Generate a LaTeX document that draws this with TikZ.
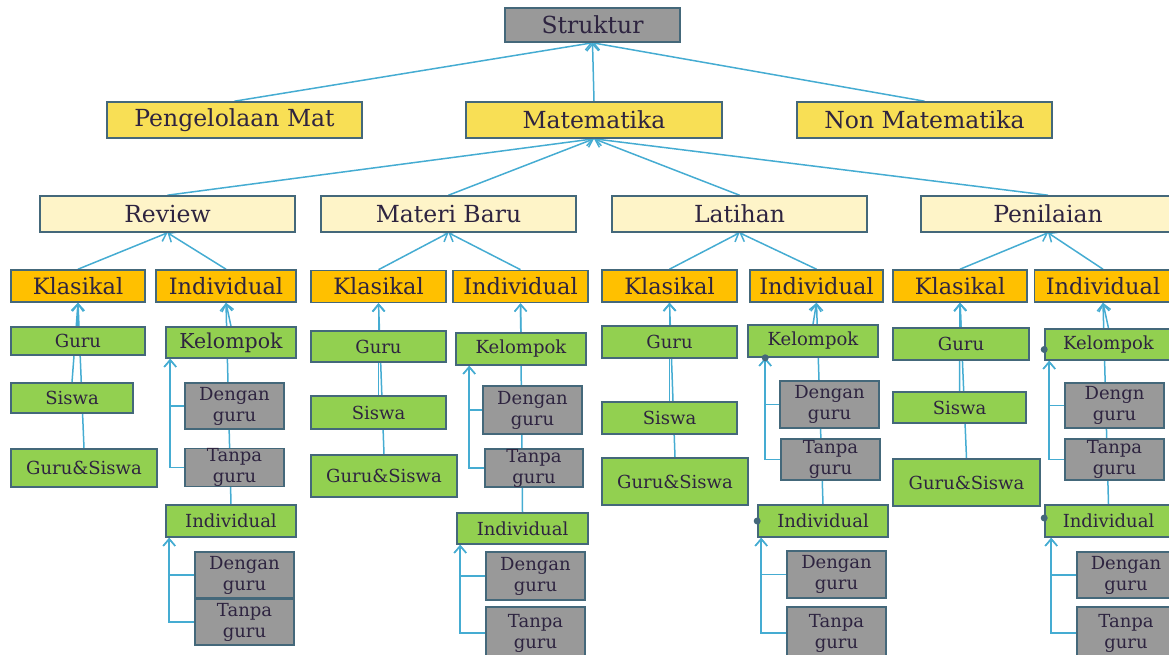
\documentclass[tikz,border=0pt]{standalone}
\usepackage{fontspec}
\usepackage{xcolor}
\usetikzlibrary{arrows.meta,backgrounds}
\setmainfont{DejaVu Serif}

\definecolor{bordr}{HTML}{44687A}
\definecolor{inkc}{HTML}{2E2440}
\definecolor{linkc}{HTML}{45ACD2}
\definecolor{boxgrey}{HTML}{999999}
\definecolor{yell}{HTML}{F8DF55}
\definecolor{paleyell}{HTML}{FEF4C8}
\definecolor{orng}{HTML}{FFC000}
\definecolor{grn}{HTML}{92D050}

\begin{document}
\begin{tikzpicture}[x=1pt,y=-1pt,
    box/.style={draw=bordr,line width=1.6pt,text=inkc,inner sep=0pt},
    wh/.style 2 args={minimum width=#1pt,minimum height=#2pt},
    top/.style={box,fill=boxgrey,font=\fontsize{23.5}{25}\selectfont},
    main/.style={box,fill=yell,font=\fontsize{23.5}{25}\selectfont},
    phase/.style={box,fill=paleyell,font=\fontsize{23.5}{25}\selectfont},
    mode/.style={box,fill=orng,font=\fontsize{22.5}{24}\selectfont},
    leaf/.style={box,fill=grn,font=\fontsize{18}{20}\selectfont},
    grey/.style={box,fill=boxgrey,align=center,font=\fontsize{18}{21}\selectfont},
    link/.style={draw=linkc,line width=1.5pt,-{Straight Barb[length=7pt,width=12pt]}}]
  \useasboundingbox (0,0) rectangle (1169,655);

  % top levels
  \node[top,wh={175}{34}] at (592.5,25) (st) {Struktur};
  \node[main,wh={255}{36}] at (234.5,120) (pm) {Pengelolaan Mat};
  \node[main,wh={256}{36}] at (594,120) (mt) {Matematika};
  \node[main,wh={255}{36}] at (924.5,120) (nm) {Non Matematika};

  \node[phase,wh={255}{36}] at (167.5,214) (rv) {Review};
  \node[phase,wh={255}{36}] at (448.5,214) (mb) {Materi Baru};
  \node[phase,wh={255}{36}] at (739.5,214) (lt) {Latihan};
  \node[phase,wh={254}{36}] at (1048,214) (pn) {Penilaian};

  % Review
  \node[mode,wh={134}{32}] at (78,286) (rk) {Klasikal};
  \node[mode,wh={140}{32}] at (226,286) (ri) {Individual};
  \node[leaf,wh={134}{28}] at (78,341) (rg) {Guru};
  \node[leaf,wh={122}{30}] at (72,398) (rs) {Siswa};
  \node[leaf,wh={146}{38}] at (84,468) (rgs) {Guru\&Siswa};
  \node[leaf,wh={130}{31},font=\fontsize{20.5}{22}\selectfont] at (231,342.5) (rkel) {Kelompok};
  \node[grey,wh={99}{46}] at (234.5,406) (rdg) {Dengan\\guru};
  \node[grey,wh={99}{37}] at (234.5,467.5) (rtg) {Tanpa\\guru};
  \node[leaf,wh={130}{32}] at (231,521) (rin) {Individual};
  \node[grey,wh={99}{46}] at (244.5,575) (rdg2) {Dengan\\guru};
  \node[grey,wh={99}{46}] at (244.5,622) (rtg2) {Tanpa\\guru};

  % Materi Baru
  \node[mode,wh={135}{32}] at (378.5,286.5) (mk) {Klasikal};
  \node[mode,wh={135}{32}] at (520.5,286.5) (mi) {Individual};
  \node[leaf,wh={135}{31}] at (378.5,346.5) (mg) {Guru};
  \node[leaf,wh={135}{33}] at (378.5,412.5) (ms) {Siswa};
  \node[leaf,wh={146}{42}] at (384,476) (mgs) {Guru\&Siswa};
  \node[leaf,wh={130}{32}] at (521,349) (mkel) {Kelompok};
  \node[grey,wh={99}{48}] at (532.5,410) (mdg) {Dengan\\guru};
  \node[grey,wh={98}{38}] at (534,468) (mtg) {Tanpa\\guru};
  \node[leaf,wh={131}{31}] at (522.5,528.5) (min) {Individual};
  \node[grey,wh={99}{48}] at (535.5,576) (mdg2) {Dengan\\guru};
  \node[grey,wh={99}{52}] at (535.5,633) (mtg2) {Tanpa\\guru};

  % Latihan
  \node[mode,wh={135}{32}] at (669.5,286) (lk) {Klasikal};
  \node[mode,wh={133}{32}] at (816.5,286) (li) {Individual};
  \node[leaf,wh={135}{32}] at (669.5,342) (lg) {Guru};
  \node[leaf,wh={135}{32}] at (669.5,418) (ls) {Siswa};
  \node[leaf,wh={146}{47}] at (675,481.5) (lgs) {Guru\&Siswa};
  \node[leaf,wh={130}{32}] at (813,341) (lkel) {Kelompok};
  \node[grey,wh={99}{47}] at (829.5,404.5) (ldg) {Dengan\\guru};
  \node[grey,wh={99}{41}] at (830.5,459.5) (ltg) {Tanpa\\guru};
  \node[leaf,wh={130}{32}] at (823,521) (lin) {Individual};
  \node[grey,wh={99}{47}] at (836.5,574.5) (ldg2) {Dengan\\guru};
  \node[grey,wh={99}{52}] at (836.5,633) (ltg2) {Tanpa\\guru};

  % Penilaian
  \node[mode,wh={134}{32}] at (960,286) (pk) {Klasikal};
  \node[mode,wh={137}{32}] at (1103,286) (pi) {Individual};
  \node[leaf,wh={136}{32}] at (961,344) (pg) {Guru};
  \node[leaf,wh={133}{31}] at (959.5,407.5) (ps) {Siswa};
  \node[leaf,wh={147}{47}] at (966.5,482.5) (pgs) {Guru\&Siswa};
  \node[leaf,wh={127}{31}] at (1108.5,344.5) (pkel) {Kelompok};
  \node[grey,wh={99}{45}] at (1114.5,405.5) (pdg) {Dengn\\guru};
  \node[grey,wh={99}{41}] at (1114.5,459.5) (ptg) {Tanpa\\guru};
  \node[leaf,wh={127}{32}] at (1108.5,521) (pin) {Individual};
  \node[grey,wh={98}{46}] at (1126,575) (pdg2) {Dengan\\guru};
  \node[grey,wh={98}{52}] at (1126,633) (ptg2) {Tanpa\\guru};

  \fill[bordr] ([xshift=18pt]lkel.south west) circle (3.5pt);
  \fill[bordr] (lin.west) circle (3.5pt);
  \fill[bordr] ([yshift=-5pt]pkel.west) circle (3.5pt);
  \fill[bordr] ([yshift=3pt]pin.west) circle (3.5pt);

  \begin{scope}[on background layer]
    \draw[link] (pm.north) -- (st.south);
    \draw[link] (mt.north) -- (st.south);
    \draw[link] (nm.north) -- (st.south);
    \draw[link] (rv.north) -- (mt.south);
    \draw[link] (mb.north) -- (mt.south);
    \draw[link] (lt.north) -- (mt.south);
    \draw[link] (pn.north) -- (mt.south);
    % Review
    \draw[link] (rk.north) -- (rv.south);
    \draw[link] (ri.north) -- (rv.south);
    \draw[link] (rgs.north) -- (rk.south);
    \draw[link] (rs.north) -- (rk.south);
    \draw[link] (rg.north) -- (rk.south);
    \draw[link] (rin.north) -- (ri.south);
    \draw[link] (rkel.north) -- (ri.south);
    \draw[link] (rdg.west) -| ([xshift=5pt]rkel.south west);
    \draw[link] (rtg.west) -| ([xshift=5pt]rkel.south west);
    \draw[link] (rdg2.west) -| ([xshift=4pt]rin.south west);
    \draw[link] (rtg2.west) -| ([xshift=4pt]rin.south west);
    % Materi Baru
    \draw[link] (mk.north) -- (mb.south);
    \draw[link] (mi.north) -- (mb.south);
    \draw[link] (mgs.north) -- (mk.south);
    \draw[link] (ms.north) -- (mk.south);
    \draw[link] (mg.north) -- (mk.south);
    \draw[link] (min.north) -- (mi.south);
    \draw[link] (mkel.north) -- (mi.south);
    \draw[link] (mdg.west) -| ([xshift=14pt]mkel.south west);
    \draw[link] (mtg.west) -| ([xshift=14pt]mkel.south west);
    \draw[link] (mdg2.west) -| ([xshift=4pt]min.south west);
    \draw[link] (mtg2.west) -| ([xshift=4pt]min.south west);
    % Latihan
    \draw[link] (lk.north) -- (lt.south);
    \draw[link] (li.north) -- (lt.south);
    \draw[link] (lgs.north) -- (lk.south);
    \draw[link] (ls.north) -- (lk.south);
    \draw[link] (lg.north) -- (lk.south);
    \draw[link] (lin.north) -- (li.south);
    \draw[link] (lkel.north) -- (li.south);
    \draw[link] (ldg.west) -| ([xshift=18pt]lkel.south west);
    \draw[link] (ltg.west) -| ([xshift=18pt]lkel.south west);
    \draw[link] (ldg2.west) -| ([xshift=4pt]lin.south west);
    \draw[link] (ltg2.west) -| ([xshift=4pt]lin.south west);
    % Penilaian
    \draw[link] (pk.north) -- (pn.south);
    \draw[link] (pi.north) -- (pn.south);
    \draw[link] (pgs.north) -- (pk.south);
    \draw[link] (ps.north) -- (pk.south);
    \draw[link] (pg.north) -- (pk.south);
    \draw[link] (pin.north) -- (pi.south);
    \draw[link] (pkel.north) -- (pi.south);
    \draw[link] (pdg.west) -| ([xshift=5pt]pkel.south west);
    \draw[link] (ptg.west) -| ([xshift=5pt]pkel.south west);
    \draw[link] (pdg2.west) -| ([xshift=7pt]pin.south west);
    \draw[link] (ptg2.west) -| ([xshift=7pt]pin.south west);
  \end{scope}
\end{tikzpicture}
\end{document}
